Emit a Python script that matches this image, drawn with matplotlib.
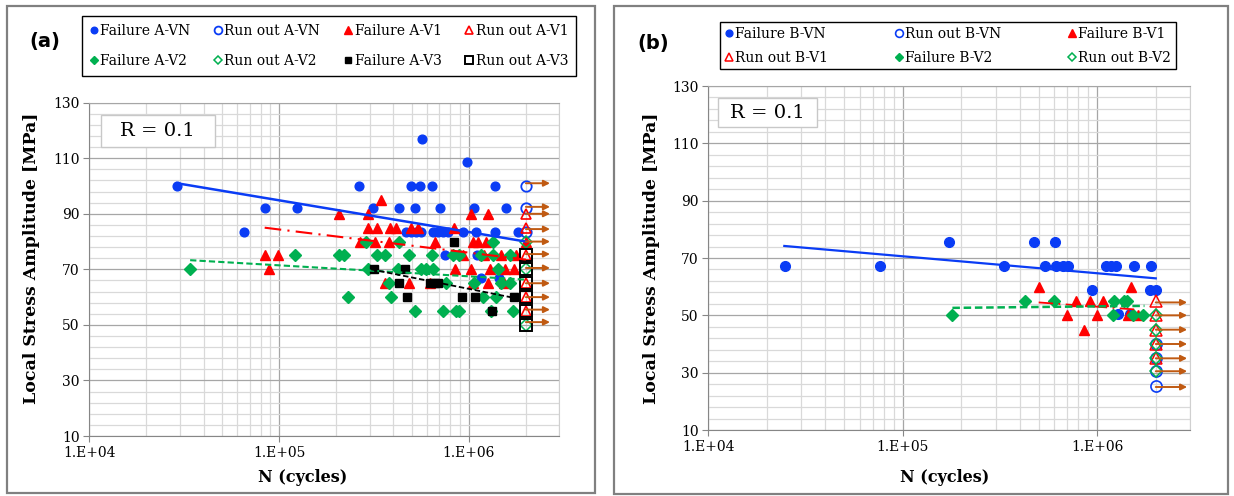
import numpy as np
import matplotlib.pyplot as plt
from matplotlib.patches import Rectangle
from matplotlib.ticker import LogLocator, MultipleLocator, FuncFormatter, NullFormatter

plt.rcParams['font.family'] = ['DejaVu Serif']

# --- Panel (a) data ---
a_vn_fail_n = [2.9e4, 6.5e4, 8.4e4, 1.24e5, 2.65e5, 3.14e5,
               5.66e5, 9.8e5,
               4.95e5, 5.5e5, 6.4e5, 1.37e6,
               4.3e5, 5.2e5, 7.06e5, 1.07e6, 1.57e6,
               4.68e5, 4.98e5, 5.28e5, 5.61e5, 6.47e5, 6.87e5, 7.29e5, 7.76e5,
               9.31e5, 1.09e6, 1.38e6, 1.81e6,
               7.5e5, 1.1e6,
               1.16e6, 1.45e6]
a_vn_fail_s = [100, 83.5, 92, 92, 100, 92,
               117, 108.5,
               100, 100, 100, 100,
               92, 92, 92, 92, 92,
               83.5, 83.5, 83.5, 83.5, 83.5, 83.5, 83.5, 83.5,
               83.5, 83.5, 83.5, 83.5,
               75, 75,
               67, 67]
a_vn_run_n = [2e6, 2e6, 2e6]
a_vn_run_s = [100, 92, 83.5]

a_v1_fail_n = [3.46e5,
               2.07e5, 2.94e5, 1.03e6, 1.26e6,
               2.96e5, 3.28e5, 3.83e5, 4.15e5, 4.98e5, 5.4e5, 8.32e5,
               2.68e5, 3.19e5, 3.79e5, 6.61e5, 1.05e6, 1.12e6, 1.24e6, 2e6,
               8.4e4, 9.9e4, 9.31e5, 1.21e6, 1.48e6, 1.78e6,
               8.9e4, 8.51e5, 1.03e6, 1.29e6, 1.56e6, 1.74e6,
               3.6e5, 4.83e5, 6.21e5, 1.05e6, 1.26e6, 1.54e6]
a_v1_fail_s = [95,
               90, 90, 90, 90,
               85, 85, 85, 85, 85, 85, 85,
               80, 80, 80, 80, 80, 80, 80, 80,
               75, 75, 75, 75, 75, 75,
               70, 70, 70, 70, 70, 70,
               65, 65, 65, 65, 65, 65]
a_v1_run_n = [2e6, 2e6, 2e6, 2e6, 2e6, 2e6]
a_v1_run_s = [90, 85, 75, 65, 60, 55]

a_v2_fail_n = [3.4e4, 1.21e5, 2.07e5, 2.2e5, 2.31e5, 2.88e5, 2.94e5,
               4.27e5, 1.34e6,
               3.28e5, 3.6e5, 4.83e5, 6.41e5, 8.24e5, 8.93e5, 1.16e6, 1.34e6, 1.65e6,
               4.24e5, 5.61e5, 5.97e5, 6.47e5, 1.42e6,
               3.79e5, 7.6e5, 1.07e6, 1.48e6, 1.64e6,
               3.9e5, 1.19e6, 1.39e6,
               5.18e5, 7.29e5, 8.59e5, 8.93e5, 1.31e6, 1.72e6]
a_v2_fail_s = [70, 75, 75, 75, 60, 80, 70,
               80, 80,
               75, 75, 75, 75, 75, 75, 75, 75, 75,
               70, 70, 70, 70, 70,
               65, 65, 65, 65, 65,
               60, 60, 60,
               55, 55, 55, 55, 55, 55]
a_v2_run_n = [2e6, 2e6, 2e6]
a_v2_run_s = [80, 70, 50]

a_v3_fail_n = [3.15e5, 4.59e5, 8.32e5, 4.29e5, 6.21e5, 6.61e5, 6.87e5,
               4.72e5, 9.2e5, 1.08e6, 1.73e6, 1.33e6]
a_v3_fail_s = [70, 70, 80, 65, 65, 65, 65, 60, 60, 60, 60, 55]
a_v3_run_n = [2e6, 2e6, 2e6, 2e6, 2e6, 2e6]
a_v3_run_s = [75, 70, 65, 60, 55, 50]

# trendlines (start / end of fitted curves)
a_trend_vn_n, a_trend_vn_s = [2.9e4, 2e6], [101, 80]
a_trend_v1_n, a_trend_v1_s = [8.4e4, 2e6], [85, 73.5]
a_trend_v2_n, a_trend_v2_s = [3.4e4, 2e6], [73.3, 66.3]
a_trend_v3_n, a_trend_v3_s = [3.06e5, 1.8e6], [70, 59.5]

# run-out arrows
a_arrow_s = [101, 92.5, 90, 84.5, 80, 75.5, 70.5, 65, 60, 55.5, 51]
a_arrow_n = [2e6, 2.68e6]

# --- Panel (b) data ---
b_vn_fail_n = [2.48e4, 7.67e4, 1.72e5, 4.71e5, 6.1e5,
               3.3e5, 5.41e5, 6.15e5, 6.67e5, 7.06e5, 1.11e6, 1.18e6, 1.25e6, 1.54e6, 1.9e6,
               9.35e5, 1.86e6, 2.0e6,
               1.28e6, 1.47e6]
b_vn_fail_s = [67.2, 67.2, 75.7, 75.7, 75.7,
               67.2, 67.2, 67.2, 67.2, 67.2, 67.2, 67.2, 67.2, 67.2, 67.2,
               58.9, 58.9, 58.9,
               50.4, 50.4]
b_vn_run_n = [2e6, 2e6, 2e6, 2e6]
b_vn_run_s = [40, 35, 30.5, 25.3]

b_v1_fail_n = [5e5, 1.5e6, 7.8e5, 9.2e5, 1.07e6, 6.98e5, 9.96e5, 8.55e5, 1.44e6, 1.62e6]
b_v1_fail_s = [60, 60, 55, 55, 55, 50, 50, 45, 50, 50]
b_v1_run_n = [2e6, 2e6, 2e6, 2e6, 2e6]
b_v1_run_s = [55, 50, 45, 40, 35]

b_v2_fail_n = [1.8e5, 4.24e5, 6e5, 1.22e6, 1.38e6, 1.43e6, 1.2e6, 1.52e6, 1.72e6]
b_v2_fail_s = [50, 55, 55, 55, 55, 55, 50, 50, 50]
b_v2_run_n = [2e6, 2e6, 2e6, 2e6, 2e6]
b_v2_run_s = [50, 45, 40, 35, 30.5]

b_trend_vn_n, b_trend_vn_s = [2.46e4, 2e6], [74.2, 62.9]
b_trend_v1_n, b_trend_v1_s = [5e5, 1.6e6], [54.5, 52]
b_trend_v2_n, b_trend_v2_s = [1.8e5, 1.75e6], [52.6, 53.3]

b_arrow_s = [54.5, 50, 45, 40, 35, 30.5, 25]
b_arrow_n = [2e6, 2.9e6]

BLUE = '#0a3cf5'
RED = '#ff0000'
GREEN = '#00b050'
BLACK = '#000000'
BROWN = '#c05a12'

W, H = 1234, 496


def fx(px):
    return px / W


def fy(py):
    return 1 - py / H


def setup_axes(ax):
    ax.set_xscale('log')
    ax.set_xlim(1e4, 3e6)
    ax.set_ylim(10, 130)
    ax.xaxis.set_major_locator(LogLocator(base=10, numticks=10))
    ax.xaxis.set_minor_locator(LogLocator(base=10, subs=np.arange(2, 10), numticks=20))
    ax.xaxis.set_major_formatter(FuncFormatter(lambda v, p: '1.E+%02d' % round(np.log10(v))))
    ax.xaxis.set_minor_formatter(NullFormatter())
    ax.yaxis.set_major_locator(MultipleLocator(20, offset=10))
    ax.yaxis.set_minor_locator(MultipleLocator(4, offset=2))
    ax.grid(which='major', color='#a6a6a6', lw=0.9, zorder=0)
    ax.grid(which='minor', color='#d9d9d9', lw=0.9, zorder=0)
    ax.set_axisbelow(True)
    ax.tick_params(which='major', length=4, color='#868686', labelsize=10, pad=3)
    ax.tick_params(which='minor', length=0)
    for side in ['left', 'bottom']:
        ax.spines[side].set_color('#868686')
    ax.spines['top'].set_color('#a6a6a6')
    ax.spines['right'].set_color('#d0d0d0')


def draw_arrows(ax, levels, n_span):
    for s in levels:
        ax.annotate('', xy=(n_span[1], s), xytext=(n_span[0], s),
                    arrowprops=dict(arrowstyle='-|>', color=BROWN, lw=1.4,
                                    mutation_scale=9, shrinkA=0, shrinkB=0),
                    zorder=6)


fig = plt.figure(figsize=(W / 100, H / 100), dpi=100)

# panel frames
fig.patches.append(Rectangle((fx(7), fy(493)), fx(595 - 7), (493 - 6) / H,
                             transform=fig.transFigure, fill=False,
                             ec='#808080', lw=1.6))
fig.patches.append(Rectangle((fx(614), fy(494)), fx(1228 - 614), (494 - 6) / H,
                             transform=fig.transFigure, fill=False,
                             ec='#808080', lw=1.6))

# ---------------- Panel (a) ----------------
ax1 = fig.add_axes([fx(89.3), fy(436), fx(559.3 - 89.3), (436 - 102.7) / H])
setup_axes(ax1)

ax1.plot(a_trend_vn_n, a_trend_vn_s, color=BLUE, lw=1.8, zorder=4)
ax1.plot(a_trend_v1_n, a_trend_v1_s, color=RED, lw=1.5, dashes=(8, 3, 1, 3), zorder=4)
ax1.plot(a_trend_v2_n, a_trend_v2_s, color=GREEN, lw=1.5, dashes=(3, 1.5), zorder=4)
ax1.plot(a_trend_v3_n, a_trend_v3_s, color=BLACK, lw=1.3, dashes=(3, 1.5), zorder=4)

h = []
h += ax1.plot(a_vn_fail_n, a_vn_fail_s, ls='none', marker='o', ms=6.3, color=BLUE,
              label='Failure A-VN', zorder=3)
h += ax1.plot(a_vn_run_n, a_vn_run_s, ls='none', marker='o', ms=7.5, mfc='none',
              mec=BLUE, mew=1.3, label='Run out A-VN', zorder=3)
h += ax1.plot(a_v1_fail_n, a_v1_fail_s, ls='none', marker='^', ms=7.5, color=RED,
              label='Failure A-V1', zorder=3)
h += ax1.plot(a_v1_run_n, a_v1_run_s, ls='none', marker='^', ms=7.5, mfc='none',
              mec=RED, mew=1.2, label='Run out A-V1', zorder=3)
h += ax1.plot(a_v2_fail_n, a_v2_fail_s, ls='none', marker='D', ms=6, color=GREEN,
              label='Failure A-V2', zorder=3)
h += ax1.plot(a_v2_run_n, a_v2_run_s, ls='none', marker='D', ms=6, mfc='none',
              mec=GREEN, mew=1.1, label='Run out A-V2', zorder=3)
h += ax1.plot(a_v3_fail_n, a_v3_fail_s, ls='none', marker='s', ms=5.5, color=BLACK,
              label='Failure A-V3', zorder=3)
h += ax1.plot(a_v3_run_n, a_v3_run_s, ls='none', marker='s', ms=8, mfc='none',
              mec=BLACK, mew=1.4, label='Run out A-V3', zorder=3)
draw_arrows(ax1, a_arrow_s, a_arrow_n)

order = [0, 4, 1, 5, 2, 6, 3, 7]
leg1 = ax1.legend([h[i] for i in order], [h[i].get_label() for i in order],
                  ncol=4, loc='upper left', mode='expand',
                  bbox_to_anchor=(fx(82), fy(78), fx(576 - 82), (78 - 16) / H),
                  bbox_transform=fig.transFigure, fontsize=10, frameon=True,
                  fancybox=False, edgecolor='black', framealpha=1,
                  handlelength=0.6, handletextpad=0.15, labelspacing=1.2,
                  borderpad=0.55, borderaxespad=0, columnspacing=0.8,
                  markerscale=0.75)
leg1.get_frame().set_linewidth(1.0)

# ---------------- Panel (b) ----------------
ax2 = fig.add_axes([fx(708.3), fy(430), fx(1190 - 708.3), (430 - 86) / H])
setup_axes(ax2)

ax2.plot(b_trend_vn_n, b_trend_vn_s, color=BLUE, lw=1.6, zorder=4)
ax2.plot(b_trend_v1_n, b_trend_v1_s, color=RED, lw=1.3, dashes=(8, 3, 1, 3), zorder=4)
ax2.plot(b_trend_v2_n, b_trend_v2_s, color=GREEN, lw=1.8, dashes=(3, 1.5), zorder=4)

g = []
g += ax2.plot(b_vn_fail_n, b_vn_fail_s, ls='none', marker='o', ms=7, color=BLUE,
              label='Failure B-VN', zorder=3)
g += ax2.plot(b_vn_run_n, b_vn_run_s, ls='none', marker='o', ms=8, mfc='none',
              mec=BLUE, mew=1.2, label='Run out B-VN', zorder=3)
g += ax2.plot(b_v1_fail_n, b_v1_fail_s, ls='none', marker='^', ms=7.5, color=RED,
              label='Failure B-V1', zorder=3)
g += ax2.plot(b_v1_run_n, b_v1_run_s, ls='none', marker='^', ms=8, mfc='none',
              mec=RED, mew=1.1, label='Run out B-V1', zorder=3)
g += ax2.plot(b_v2_fail_n, b_v2_fail_s, ls='none', marker='D', ms=6.5, color=GREEN,
              label='Failure B-V2', zorder=3)
g += ax2.plot(b_v2_run_n, b_v2_run_s, ls='none', marker='D', ms=6.5, mfc='none',
              mec=GREEN, mew=1.1, label='Run out B-V2', zorder=3)
draw_arrows(ax2, b_arrow_s, b_arrow_n)

order = [0, 3, 1, 4, 2, 5]
leg2 = ax2.legend([g[i] for i in order], [g[i].get_label() for i in order],
                  ncol=3, loc='upper left', mode='expand',
                  bbox_to_anchor=(fx(720), fy(69), fx(1176 - 720), (69 - 22) / H),
                  bbox_transform=fig.transFigure, fontsize=10, frameon=True,
                  fancybox=False, edgecolor='black', framealpha=1,
                  handlelength=0.6, handletextpad=0.15, labelspacing=0.7,
                  borderpad=0.35, borderaxespad=0, columnspacing=2.5,
                  markerscale=0.7)
leg2.get_frame().set_linewidth(1.0)

# ---------------- labels and annotations ----------------
for x, y, t in [(45, 42, '(a)'), (653, 43, '(b)')]:
    fig.text(fx(x), fy(y), t, family='DejaVu Sans', weight='bold', fontsize=14,
             ha='center', va='center')

for x, y in [(32, 258), (651, 258)]:
    fig.text(fx(x), fy(y), 'Local Stress Amplitude [MPa]', weight='bold',
             fontsize=12.5, rotation=90, ha='center', va='center')
for x in [303, 945]:
    fig.text(fx(x), fy(478), 'N (cycles)', weight='bold', fontsize=11.5,
             ha='center', va='center')

# R = 0.1 boxes
for (x0, y0, x1, y1) in [(100.7, 115.3, 214.7, 147), (717.7, 98.3, 817.3, 126.7)]:
    fig.patches.append(Rectangle((fx(x0), fy(y1)), fx(x1 - x0), (y1 - y0) / H,
                                 transform=fig.transFigure, fc='white',
                                 ec='#c8c8c8', lw=1.0, zorder=5))
    fig.text(fx((x0 + x1) / 2), fy((y0 + y1) / 2), 'R = 0.1', fontsize=14,
             ha='center', va='center', zorder=6)

fig.savefig('out.png', dpi=100)
